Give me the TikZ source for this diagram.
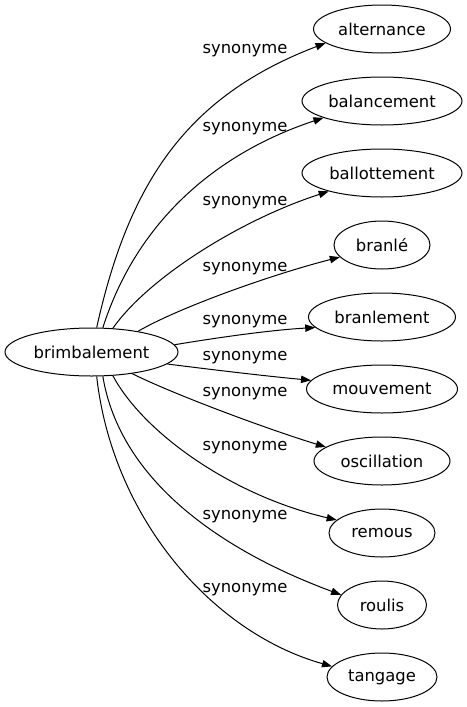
\documentclass[tikz,border=0pt]{standalone}
\usepackage{fontspec}
\setmainfont{DejaVu Sans}
\usetikzlibrary{shapes.geometric,arrows.meta}
\begin{document}
\begin{tikzpicture}[x=0.75pt,y=-0.75pt,
  word/.style={draw,ellipse,inner sep=0pt,minimum height=36pt,line width=0.75pt,font=\fontsize{12.3}{14}\selectfont},
  lab/.style={inner sep=0pt,font=\fontsize{12.3}{14}\selectfont},
  edge/.style={line width=0.75pt,-{Triangle[length=7.5pt,width=5.5pt]}}]
\useasboundingbox (0,0) rectangle (467,707);
\node[word,minimum width=129.75pt] (b) at (91.5,352) {brimbalement};
\node[word,minimum width=102.75pt] (n1) at (382,29) {alternance};
\node[word,minimum width=120pt] (n2) at (382,101) {balancement};
\node[word,minimum width=120pt] (n3) at (382,173) {ballottement};
\node[word,minimum width=72pt] (n4) at (382,245) {branlé};
\node[word,minimum width=110.25pt] (n5) at (382,317) {branlement};
\node[word,minimum width=113.25pt] (n6) at (382,389) {mouvement};
\node[word,minimum width=102pt] (n7) at (382,461) {oscillation};
\node[word,minimum width=79.5pt] (n8) at (382,533) {remous};
\node[word,minimum width=66.75pt] (n9) at (382,605) {roulis};
\node[word,minimum width=82.5pt] (n10) at (382,677) {tangage};
\node[lab] (l1) at (245,51) {synonyme};
\node[lab] (l2) at (245,129) {synonyme};
\node[lab] (l3) at (245,203) {synonyme};
\node[lab] (l4) at (245,269) {synonyme};
\node[lab] (l5) at (245,322) {synonyme};
\node[lab] (l6) at (245,358) {synonyme};
\node[lab] (l7) at (245,394) {synonyme};
\node[lab] (l8) at (245,448) {synonyme};
\node[lab] (l9) at (245,517) {synonyme};
\node[lab] (l10) at (245,590) {synonyme};
\draw[edge] (b.78) .. controls (129,182) and (187,96) .. (n1.194);
\draw[edge] (b.65) .. controls (138,218) and (220,152) .. (n2.196);
\draw[edge] (b.48) .. controls (148,278) and (240,220) .. (n3.199);
\draw[edge] (b.24) .. controls (178,308) and (270,275) .. (n4.196);
\draw[edge] (b.5) .. controls (215,338) and (270,330) .. (n5.189);
\draw[edge] (b.-9) .. controls (215,370) and (265,376) .. (n6.173);
\draw[edge] (b.-28) .. controls (175,395) and (270,430) .. (n7.166);
\draw[edge] (b.-48) .. controls (143,432) and (230,495) .. (n8.164);
\draw[edge] (b.-65) .. controls (120,480) and (220,550) .. (n9.166);
\draw[edge] (b.-78) .. controls (112,515) and (210,632) .. (n10.168);
\end{tikzpicture}
\end{document}
